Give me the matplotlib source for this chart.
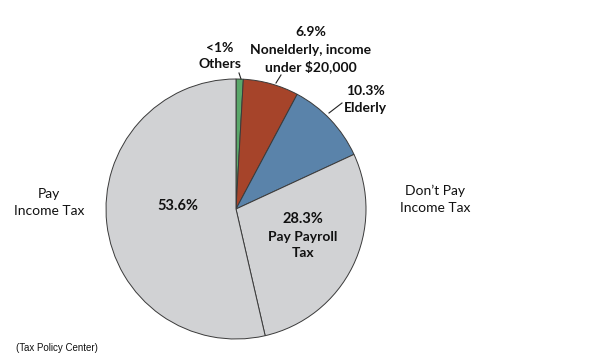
import matplotlib
matplotlib.use("Agg")
import matplotlib.pyplot as plt

# Data (clockwise from top)
labels = ["Others", "Nonelderly, income under $20,000", "Elderly", "Pay Payroll Tax", "Pay Income Tax"]
values = [0.9, 6.9, 10.3, 28.3, 53.6]
colors = ["#5aa86a", "#a6442a", "#5a83aa", "#d1d2d4", "#d1d2d4"]

W, H = 607, 363
fig = plt.figure(figsize=(W / 100, H / 100), dpi=100)
ax = fig.add_axes([0, 0, 1, 1])

cx, cy, r = 236, H - 209, 130
ax.pie(values, colors=colors, startangle=90, counterclock=False,
       center=(cx, cy), radius=r, frame=True,
       wedgeprops=dict(edgecolor="#3a3a3a", linewidth=0.7))
ax.set_xlim(0, W)
ax.set_ylim(0, H)
ax.set_aspect("equal")
ax.axis("off")

fam = ["Lato", "DejaVu Sans"]
def T(x, y, s, size=10, weight="bold"):
    ax.text(x, H - y, s, ha="center", va="center", fontsize=size,
            fontweight=weight, family=fam, color="#111111")

T(220, 48, "<1%")
T(220, 64, "Others")
T(311, 32, "6.9%")
T(311, 50, "Nonelderly, income")
T(311, 67, "under $20,000")
T(365, 91, "10.3%")
T(365, 108, "Elderly")
T(178, 206, "53.6%", size=10.5)
T(303, 219, "28.3%", size=10.5)
T(303, 237, "Pay Payroll")
T(303, 253, "Tax")
T(49, 194, "Pay", weight="normal")
T(49, 211, "Income Tax", weight="normal")
T(435, 191, "Don\u2019t Pay", weight="normal")
T(435, 208, "Income Tax", weight="normal")

def L(x0, y0, x1, y1):
    ax.plot([x0, x1], [H - y0, H - y1], color="#222222", lw=0.8)
L(239, 73, 241, 79)
L(281, 75, 276, 83)
L(329, 113, 342, 103)

ax.text(16, H - 348, "(Tax Policy Center)", ha="left", va="center",
        fontsize=7, family=["Liberation Sans", "DejaVu Sans"], color="#111111")

fig.savefig("out.png", dpi=100)
